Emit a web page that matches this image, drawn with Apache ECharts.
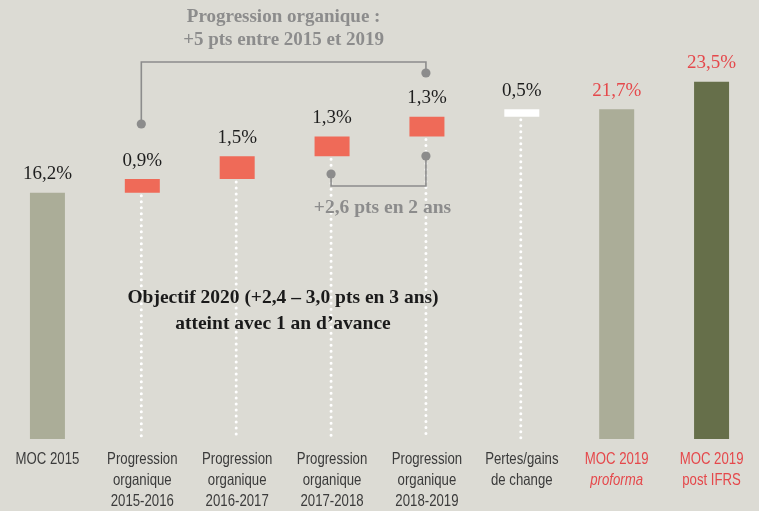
<!DOCTYPE html>
<html>
<head>
<meta charset="utf-8">
<script src="https://cdn.jsdelivr.net/npm/echarts@6/dist/echarts.min.js"></script>
<style>
    html, body { margin: 0; padding: 0; background: #dcdbd4; }
    #main { width: 759px; height: 511px; }
</style>
</head>
<body>
<div id="main"></div>
<script>
    // categories et valeurs (marge opérationnelle courante, en %)
    const categories = [
        'MOC 2015',
        'Progression\norganique\n2015-2016',
        'Progression\norganique\n2016-2017',
        'Progression\norganique\n2017-2018',
        'Progression\norganique\n2018-2019',
        'Pertes/gains\nde change',
        'MOC 2019\nproforma',
        'MOC 2019\npost IFRS'
    ]
    const values = [16.2, 0.9, 1.5, 1.3, 1.3, 0.5, 21.7, 23.5]
    // 'total' = barre depuis 0, 'step' = barre flottante
    const kinds = ['total', 'step', 'step', 'step', 'step', 'step', 'total', 'total']
    const valueLabels = ['16,2%', '0,9%', '1,5%', '1,3%', '1,3%', '0,5%', '21,7%', '23,5%']

    // base des barres flottantes = cumul des valeurs précédentes
    let running = 0
    const bases = values.map((v, i) => {
        if (kinds[i] == 'total') { running = v; return 0 }
        let b = running
        running = +(running + v).toFixed(1)
        return b
    })

    const colors = ['#abad98', '#ef6a58', '#ef6a58', '#ef6a58', '#ef6a58', '#ffffff', '#abad98', '#666f4a']
    const redText = '#e5484b'
    const grey = '#8c8c8c'
    const serif = '"Liberation Serif", "DejaVu Serif", serif'
    const sans = '"Liberation Sans", Arial, sans-serif'

    let myChart = echarts.init(document.getElementById('main'))

    let option = {
        backgroundColor: '#dcdbd4',
        animation: false,
        grid: { left: -2, right: -2, top: 59, bottom: 72 },
        xAxis: {
            type: 'category',
            data: categories,
            axisLine: { show: false },
            axisTick: { show: false },
            // libellés dessinés plus bas (police étroite simulée)
            axisLabel: { show: false }
        },
        yAxis: {
            type: 'value',
            min: 0,
            max: 25,
            show: false,
            splitLine: { show: false }
        },
        series: [
            {
                name: 'base',
                type: 'bar',
                stack: 'wf',
                barWidth: 35,
                silent: true,
                itemStyle: { color: 'transparent' },
                data: bases
            },
            {
                name: 'valeur',
                type: 'bar',
                stack: 'wf',
                barWidth: 35,
                data: values.map((v, i) => ({
                    value: v,
                    itemStyle: { color: colors[i] },
                    label: { color: i >= 6 ? redText : '#1e1e1e' }
                })),
                label: {
                    show: true,
                    position: 'top',
                    distance: 9,
                    fontFamily: serif,
                    fontSize: 19,
                    formatter: p => valueLabels[p.dataIndex]
                }
            },
            {
                // pointillés blancs sous les barres flottantes
                name: 'pointilles',
                type: 'custom',
                silent: true,
                z: 1,
                data: bases.map((b, i) => [i, b]).filter((d, i) => kinds[i] == 'step'),
                renderItem: (params, api) => {
                    let top = api.coord([api.value(0), api.value(1)])
                    let bottom = api.coord([api.value(0), 0])
                    return {
                        type: 'line',
                        shape: { x1: top[0] - 1, y1: top[1] + 3, x2: bottom[0] - 1, y2: bottom[1] - 1 },
                        style: { stroke: '#ffffff', lineWidth: 3, lineDash: [0, 6], lineCap: 'round' }
                    }
                }
            }
        ]
    }
    myChart.setOption(option)

    // annotations (crochets + textes), positionnées sur les catégories
    const cx = i => myChart.convertToPixel({ xAxisIndex: 0 }, i)
    const baseY = myChart.convertToPixel({ yAxisIndex: 0 }, 0)
    let x1 = cx(1) - 1, x3 = cx(3) - 1, x4 = cx(4) - 1
    let lineStyle = { stroke: grey, lineWidth: 1.6, fill: null }
    let dot = (x, y) => ({ type: 'circle', z: 100, shape: { cx: x, cy: y, r: 4.6 }, style: { fill: grey } })

    let catLabels = categories.map((c, i) => ({
        type: 'text',
        z: 100,
        x: cx(i),
        y: baseY + 10,
        scaleX: 0.8,
        style: {
            text: i == 6 ? '{r|MOC 2019}\n{ri|proforma}' : i == 7 ? '{r|MOC 2019}\n{r|post IFRS}' : c,
            font: '16.5px ' + sans,
            fill: '#3b3b3b',
            lineHeight: 21,
            align: 'center',
            verticalAlign: 'top',
            rich: {
                r: { fill: redText, font: '16.5px ' + sans, lineHeight: 21 },
                ri: { fill: redText, font: 'italic 16.5px ' + sans, lineHeight: 21 }
            }
        }
    }))

    myChart.setOption({
        graphic: [
            { type: 'polyline', z: 100, shape: { points: [[x1, 124], [x1, 62], [x4, 62], [x4, 73]] }, style: lineStyle },
            dot(x1, 124),
            dot(x4, 73),
            { type: 'polyline', z: 100, shape: { points: [[x3, 174], [x3, 186], [x4, 186], [x4, 156]] }, style: lineStyle },
            dot(x3, 174),
            dot(x4, 156),
            {
                type: 'text',
                z: 100,
                x: (x1 + x4) / 2, y: 6,
                style: {
                    text: 'Progression organique :\n+5 pts entre 2015 et 2019',
                    fill: grey, font: 'bold 19px ' + serif, lineHeight: 23,
                    align: 'center', verticalAlign: 'top'
                }
            },
            {
                type: 'text',
                z: 100,
                x: (x3 + x4) / 2 + 4, y: 208,
                style: {
                    text: '+2,6 pts en 2 ans',
                    fill: grey, font: 'bold 19.5px ' + serif,
                    align: 'center', verticalAlign: 'middle'
                }
            },
            {
                type: 'text',
                z: 100,
                x: 283, y: 285,
                style: {
                    text: 'Objectif 2020 (+2,4 – 3,0 pts en 3 ans)\natteint avec 1 an d’avance',
                    fill: '#1a1a1a', font: 'bold 19.5px ' + serif, lineHeight: 26,
                    align: 'center', verticalAlign: 'top'
                }
            }
        ].concat(catLabels)
    })
</script>
</body>
</html>
